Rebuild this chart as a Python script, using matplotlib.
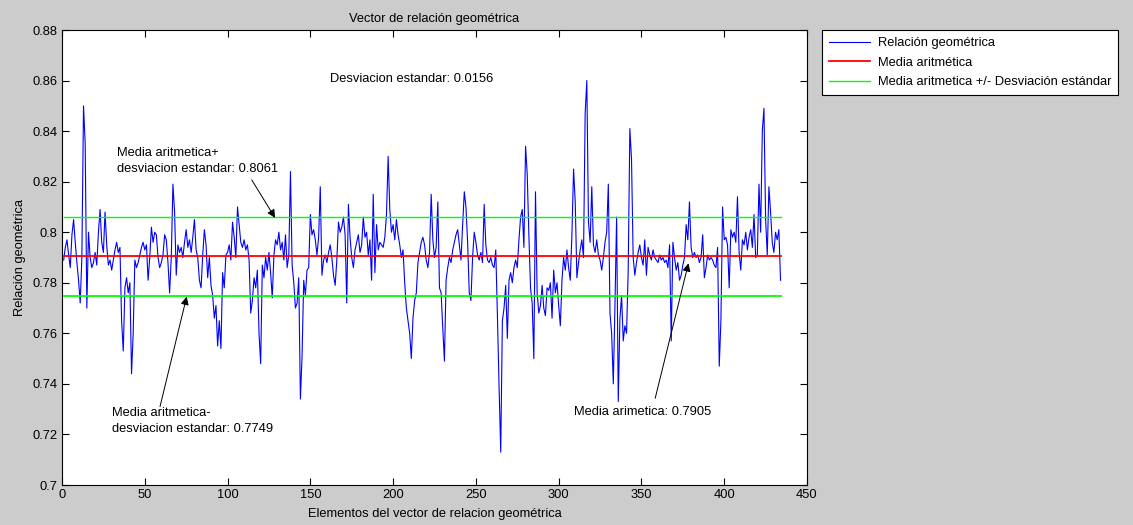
import matplotlib
matplotlib.use("Agg")
import matplotlib.pyplot as plt
from matplotlib.ticker import FuncFormatter
import numpy as np

plt.rcParams['font.family'] = ['Liberation Sans', 'DejaVu Sans']
FS = 9.3
plt.rcParams['font.size'] = FS

# relacion geometrica, one value per element (1..434)
relacion = [
    0.789, 0.794, 0.797, 0.791, 0.786, 0.799, 0.805, 0.796, 0.788, 0.781,
    0.772, 0.790, 0.850, 0.835, 0.770, 0.800, 0.790, 0.786, 0.788, 0.792,
    0.787, 0.800, 0.809, 0.796, 0.792, 0.808, 0.795, 0.787, 0.789, 0.785,
    0.789, 0.793, 0.796, 0.792, 0.794, 0.765, 0.753, 0.778, 0.782, 0.776,
    0.780, 0.744, 0.760, 0.789, 0.786, 0.788, 0.791, 0.794, 0.796, 0.793,
    0.795, 0.781, 0.790, 0.802, 0.796, 0.800, 0.799, 0.790, 0.786, 0.788,
    0.791, 0.799, 0.797, 0.788, 0.776, 0.790, 0.819, 0.808, 0.783, 0.795,
    0.792, 0.794, 0.790, 0.796, 0.801, 0.794, 0.797, 0.792, 0.798, 0.805,
    0.793, 0.790, 0.781, 0.778, 0.791, 0.801, 0.795, 0.782, 0.790, 0.779,
    0.775, 0.766, 0.771, 0.755, 0.765, 0.754, 0.784, 0.778, 0.791, 0.792,
    0.795, 0.789, 0.804, 0.798, 0.790, 0.810, 0.803, 0.796, 0.794, 0.797,
    0.793, 0.795, 0.789, 0.768, 0.773, 0.782, 0.778, 0.785, 0.760, 0.748,
    0.787, 0.782, 0.790, 0.785, 0.792, 0.784, 0.774, 0.791, 0.797, 0.795,
    0.800, 0.793, 0.796, 0.789, 0.799, 0.786, 0.791, 0.824, 0.787, 0.780,
    0.770, 0.772, 0.782, 0.734, 0.751, 0.781, 0.775, 0.785, 0.786, 0.807,
    0.799, 0.801, 0.797, 0.791, 0.798, 0.818, 0.783, 0.789, 0.791, 0.788,
    0.792, 0.795, 0.790, 0.783, 0.779, 0.789, 0.804, 0.800, 0.802, 0.806,
    0.799, 0.772, 0.811, 0.798, 0.790, 0.786, 0.793, 0.796, 0.799, 0.792,
    0.795, 0.806, 0.798, 0.800, 0.791, 0.797, 0.781, 0.815, 0.784, 0.803,
    0.793, 0.796, 0.795, 0.794, 0.798, 0.807, 0.830, 0.809, 0.800, 0.803,
    0.797, 0.805, 0.799, 0.795, 0.790, 0.793, 0.780, 0.770, 0.765, 0.760,
    0.750, 0.766, 0.773, 0.776, 0.788, 0.792, 0.796, 0.798, 0.795, 0.789,
    0.786, 0.792, 0.815, 0.797, 0.790, 0.794, 0.812, 0.778, 0.776, 0.762,
    0.749, 0.781, 0.786, 0.790, 0.788, 0.793, 0.796, 0.799, 0.801, 0.795,
    0.789, 0.803, 0.816, 0.810, 0.796, 0.776, 0.773, 0.790, 0.800, 0.796,
    0.791, 0.789, 0.792, 0.788, 0.811, 0.795, 0.789, 0.788, 0.790, 0.787,
    0.786, 0.793, 0.767, 0.739, 0.713, 0.765, 0.770, 0.779, 0.758, 0.781,
    0.784, 0.780, 0.786, 0.789, 0.786, 0.797, 0.806, 0.809, 0.794, 0.834,
    0.823, 0.799, 0.778, 0.772, 0.750, 0.816, 0.776, 0.768, 0.771, 0.779,
    0.770, 0.767, 0.778, 0.777, 0.780, 0.766, 0.785, 0.776, 0.780, 0.771,
    0.763, 0.781, 0.790, 0.785, 0.793, 0.786, 0.781, 0.799, 0.825, 0.812,
    0.782, 0.788, 0.793, 0.797, 0.790, 0.847, 0.860, 0.804, 0.796, 0.818,
    0.795, 0.792, 0.797, 0.791, 0.789, 0.785, 0.790, 0.796, 0.800, 0.819,
    0.768, 0.760, 0.740, 0.771, 0.806, 0.733, 0.766, 0.775, 0.757, 0.763,
    0.760, 0.785, 0.841, 0.829, 0.790, 0.783, 0.788, 0.792, 0.795, 0.790,
    0.787, 0.797, 0.783, 0.794, 0.791, 0.789, 0.793, 0.790, 0.789, 0.788,
    0.791, 0.789, 0.790, 0.788, 0.789, 0.786, 0.795, 0.757, 0.796, 0.790,
    0.785, 0.788, 0.781, 0.783, 0.787, 0.790, 0.803, 0.797, 0.812, 0.794,
    0.790, 0.792, 0.790, 0.791, 0.788, 0.790, 0.799, 0.782, 0.786, 0.791,
    0.789, 0.790, 0.789, 0.787, 0.786, 0.794, 0.747, 0.765, 0.810, 0.797,
    0.798, 0.795, 0.778, 0.801, 0.798, 0.800, 0.796, 0.814, 0.792, 0.785,
    0.797, 0.795, 0.800, 0.793, 0.798, 0.801, 0.794, 0.807, 0.790, 0.791,
    0.819, 0.800, 0.840, 0.849, 0.805, 0.791, 0.818, 0.808, 0.796, 0.792,
    0.800, 0.797, 0.801, 0.781,
]

media = 0.7905
desviacion = 0.0156
media_mas = 0.8061
media_menos = 0.7749

x_ticks = [0, 50, 100, 150, 200, 250, 300, 350, 400, 450]
y_ticks = [0.7, 0.72, 0.74, 0.76, 0.78, 0.8, 0.82, 0.84, 0.86, 0.88]

W, H = 1133, 525
fig = plt.figure(figsize=(W / 100, H / 100), dpi=100)
fig.patch.set_facecolor("#cccccc")
ax = fig.add_axes([62 / W, 1 - 485 / H, 745 / W, 455 / H])
ax.set_facecolor("white")

n = len(relacion)
idx = np.arange(1, n + 1)

l1, = ax.plot(idx, relacion, color="#0000ff", lw=0.8)
l2, = ax.plot([1, n], [media, media], color="#ff0000", lw=1.3)
l3, = ax.plot([1, n], [media_mas, media_mas], color="#00ff00", lw=1.0)
ax.plot([1, n], [media_menos, media_menos], color="#00ff00", lw=1.3)

ax.set_xlim(0, 450)
ax.set_ylim(0.7, 0.88)
ax.set_xticks(x_ticks)
ax.set_yticks(y_ticks)
ax.yaxis.set_major_formatter(FuncFormatter(lambda v, _: f"{round(v, 4):g}"))
ax.tick_params(direction="in", top=True, right=True, length=5, width=0.8,
               labelsize=FS, pad=3)
for s in ax.spines.values():
    s.set_linewidth(0.8)

ax.set_title("Vector de relación geométrica", fontsize=FS, pad=6)
ax.set_xlabel("Elementos del vector de relacion geométrica", fontsize=FS, labelpad=5)
ax.set_ylabel("Relación geométrica", fontsize=FS, labelpad=5)

# anotaciones
ax.text(162, 0.8606, f"Desviacion estandar: {desviacion}", fontsize=FS, va="center")
ax.text(33.5, 0.8282, f"Media aritmetica+\ndesviacion estandar: {media_mas}",
        fontsize=FS, va="center", linespacing=1.45)
ax.text(30, 0.7253, f"Media aritmetica-\ndesviacion estandar: {media_menos}",
        fontsize=FS, va="center", linespacing=1.45)
ax.text(309.5, 0.7289, f"Media arimetica: {media}", fontsize=FS, va="center")

arrow = dict(arrowstyle="-|>", color="black", lw=0.7, mutation_scale=12,
             shrinkA=0, shrinkB=0)
ax.annotate("", xy=(128.7, 0.8057), xytext=(114.6, 0.8207), arrowprops=arrow)
ax.annotate("", xy=(75.3, 0.7745), xytext=(59.2, 0.7310), arrowprops=arrow)
ax.annotate("", xy=(378.4, 0.7877), xytext=(358.3, 0.7343), arrowprops=arrow)

leg = fig.legend([l1, l2, l3],
                 ["Relación geométrica", "Media aritmética",
                  "Media aritmetica +/- Desviación estándar"],
                 loc="upper left", bbox_to_anchor=(822 / W, 1 - 30 / H),
                 fontsize=FS, fancybox=False, framealpha=1, edgecolor="black",
                 handlelength=3.2, handletextpad=0.55, labelspacing=0.58,
                 borderpad=0.55, borderaxespad=0)
leg.get_frame().set_linewidth(0.8)

fig.savefig("out.png", dpi=100, facecolor=fig.get_facecolor())
